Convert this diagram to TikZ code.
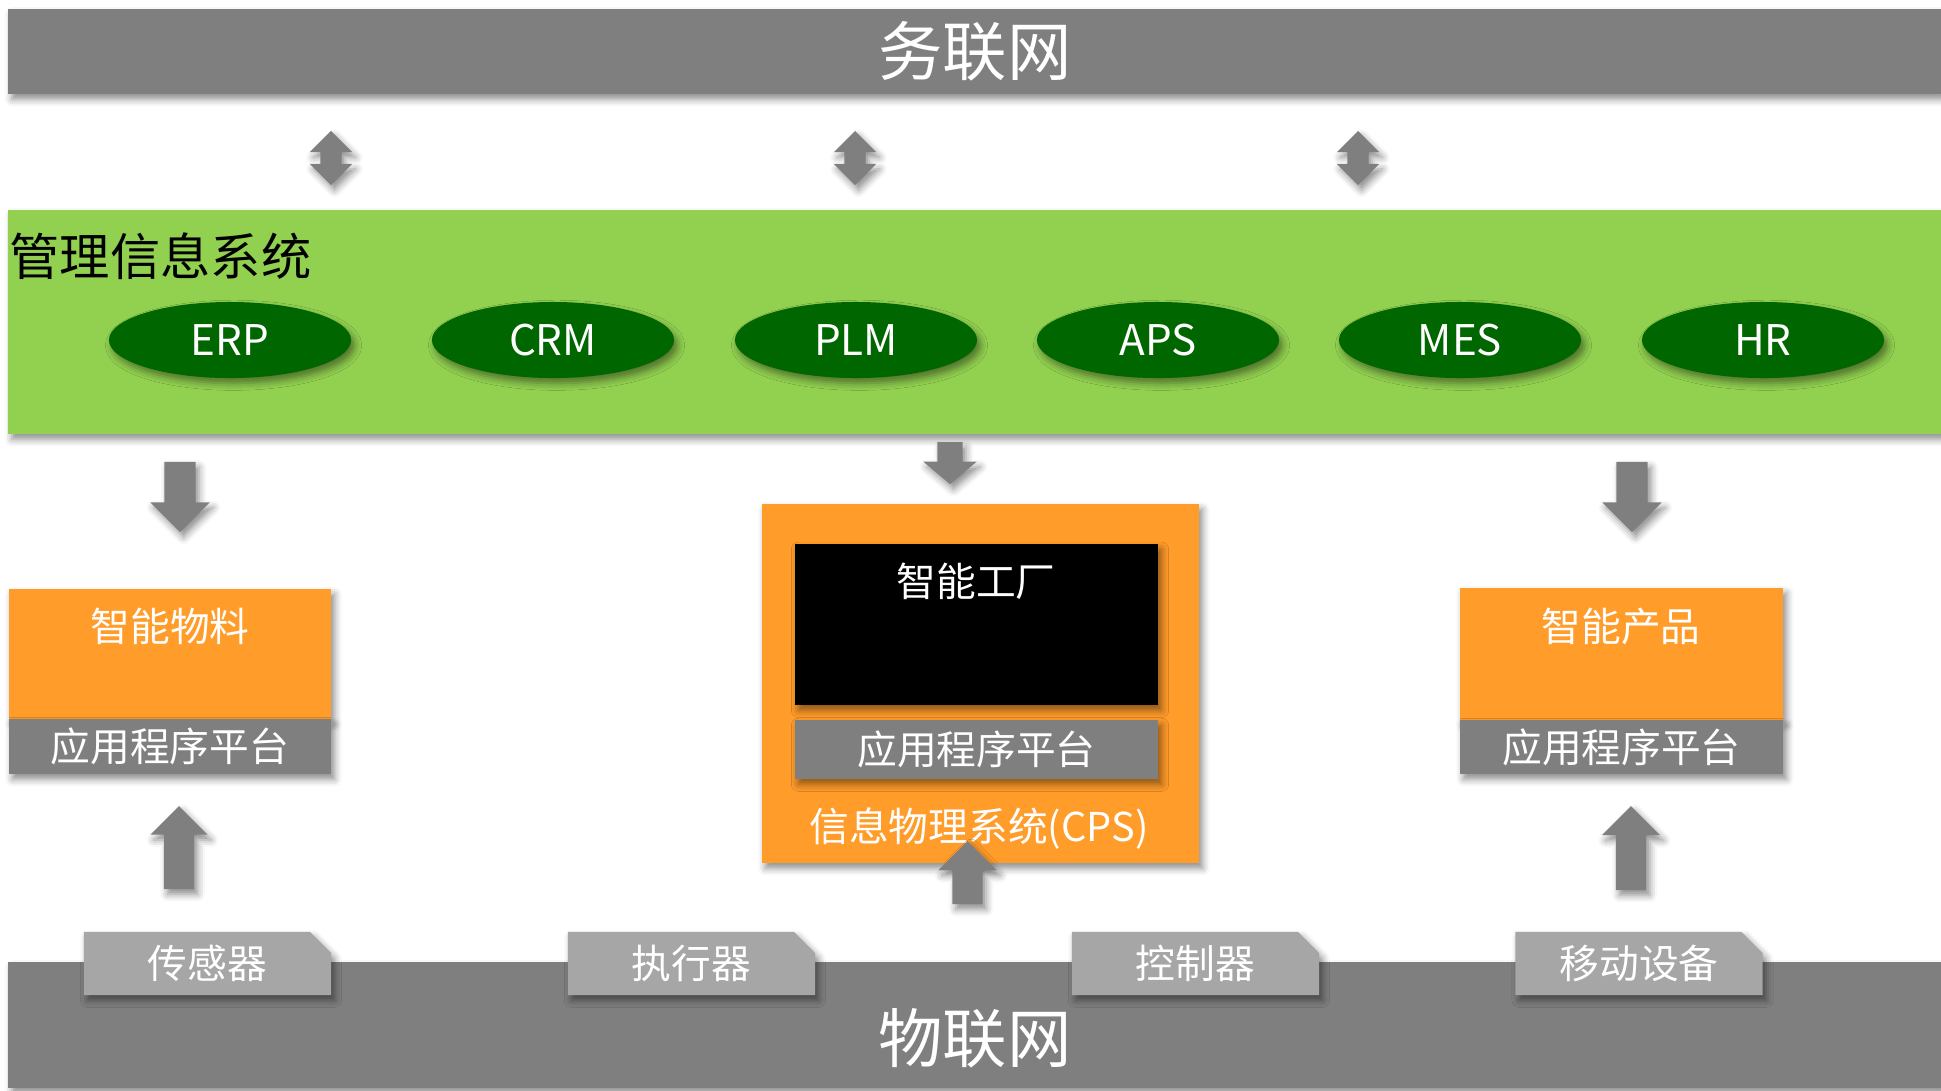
\documentclass[tikz,border=0pt]{standalone}
\usepackage{fontspec}
\newfontfamily\cjk{Noto Sans CJK SC}
\usetikzlibrary{shapes.geometric,shapes.arrows,shapes.misc,shadows.blur}
\definecolor{bandgray}{HTML}{7F7F7F}
\definecolor{misgreen}{HTML}{92D050}
\definecolor{appgreen}{HTML}{006600}
\definecolor{boxorange}{HTML}{FF9C2A}
\definecolor{taggray}{HTML}{A6A6A6}
\tikzset{
  soft/.style={blur shadow={shadow xshift=1pt,shadow yshift=-1.5pt,shadow blur radius=2pt,shadow opacity=45}},
  band/.style={fill=bandgray,soft,inner sep=0pt,text=white,font=\cjk\fontsize{18.3}{20}\selectfont},
  bigtext/.style={inner sep=0pt,text=white,font=\cjk\fontsize{18.3}{20}\selectfont},
  misband/.style={fill=misgreen,soft,inner sep=0pt},
  mistext/.style={inner sep=0pt,text=black,font=\cjk\fontsize{14.3}{16}\selectfont},
  app/.style={ellipse,fill=appgreen,soft,minimum width=2.42cm,minimum height=0.76cm,inner sep=0pt,text=white,font=\cjk\fontsize{12}{14}\selectfont},
  obox/.style={fill=boxorange,soft,inner sep=0pt},
  boxtext/.style={inner sep=0pt,text=white,font=\cjk\fontsize{11.3}{13}\selectfont},
  platform/.style={fill=bandgray,soft,inner sep=0pt,text=white,font=\cjk\fontsize{11.3}{13}\selectfont},
  sensor/.style={chamfered rectangle,chamfered rectangle corners=north east,chamfered rectangle xsep=0.1cm,chamfered rectangle ysep=0.11cm,fill=taggray,soft,inner sep=0pt,minimum width=2.47cm,minimum height=0.63cm,text=white,font=\cjk\fontsize{11.3}{13}\selectfont},
  updown/.style={double arrow,double arrow tip angle=90,double arrow head extend=0.105cm,shape border rotate=90,fill=bandgray,soft,inner sep=0.1cm,minimum height=0.54cm},
  fatarrow/.style={single arrow,single arrow tip angle=90,single arrow head extend=0.14cm,fill=bandgray,soft,inner sep=0.15cm,minimum height=0.7cm,anchor=tip}
}
\begin{document}
\begin{tikzpicture}[x=0.01cm,y=-0.01cm]
\useasboundingbox (0,0) rectangle (1941,1090);
\node[band,minimum width=19.32cm,minimum height=0.85cm] (1) at (975,51.5) {务联网};
\node[updown] (2) at (331,158) {};
\node[updown] (3) at (855,158) {};
\node[updown] (4) at (1358,158) {};
\node[misband,minimum width=19.32cm,minimum height=2.24cm] (5) at (975,322) {};
\node[mistext,anchor=west] (6) at (9,256) {管理信息系统};
\node[app] (7) at (230,340) {ERP};
\node[app] (8) at (553,340) {CRM};
\node[app] (9) at (856,340) {PLM};
\node[app] (10) at (1158,340) {APS};
\node[app] (11) at (1460,340) {MES};
\node[app] (12) at (1763,340) {HR};
\node[fatarrow,shape border rotate=270] (13) at (180,533) {};
\node[fatarrow,shape border rotate=270,inner sep=0.12cm,single arrow head extend=0.14cm,single arrow tip angle=100,minimum height=0.42cm] (14) at (950,485) {};
\node[fatarrow,shape border rotate=270] (15) at (1632,533) {};
\node[obox,minimum width=3.22cm,minimum height=1.30cm] (16) at (170,654) {};
\node[boxtext] (17) at (170,626) {智能物料};
\node[platform,minimum width=3.22cm,minimum height=0.55cm] (18) at (170,746.5) {应用程序平台};
\node[fatarrow,shape border rotate=90,inner sep=0.145cm,single arrow head extend=0.135cm,minimum height=0.83cm] (19) at (179,805) {};
\node[obox,minimum width=4.37cm,minimum height=3.59cm] (20) at (980.5,683.5) {};
\node[fill=black,soft,inner sep=0pt,minimum width=3.63cm,minimum height=1.61cm] (21) at (976.5,624.5) {};
\node[boxtext] (22) at (976,581) {智能工厂};
\node[platform,minimum width=3.63cm,minimum height=0.59cm] (23) at (976.5,749.5) {应用程序平台};
\node[boxtext] (24) at (979,828) {信息物理系统(CPS)};
\node[fatarrow,shape border rotate=90,inner sep=0.145cm,single arrow head extend=0.14cm,minimum height=0.63cm] (25) at (967.5,840) {};
\node[obox,minimum width=3.23cm,minimum height=1.32cm] (26) at (1621.5,654) {};
\node[boxtext] (27) at (1621,626) {智能产品};
\node[platform,minimum width=3.23cm,minimum height=0.54cm] (28) at (1621.5,747) {应用程序平台};
\node[fatarrow,shape border rotate=90,inner sep=0.145cm,single arrow head extend=0.14cm,minimum height=0.84cm] (29) at (1631,805) {};
\node[band,minimum width=19.32cm,minimum height=1.26cm] (30) at (975,1025) {};
\node[bigtext] (31) at (975,1038) {物联网};
\node[sensor] (32) at (207.5,963.5) {传感器};
\node[sensor] (33) at (691.5,963.5) {执行器};
\node[sensor] (34) at (1195.5,963.5) {控制器};
\node[sensor] (35) at (1639,963.5) {移动设备};
\end{tikzpicture}
\end{document}
